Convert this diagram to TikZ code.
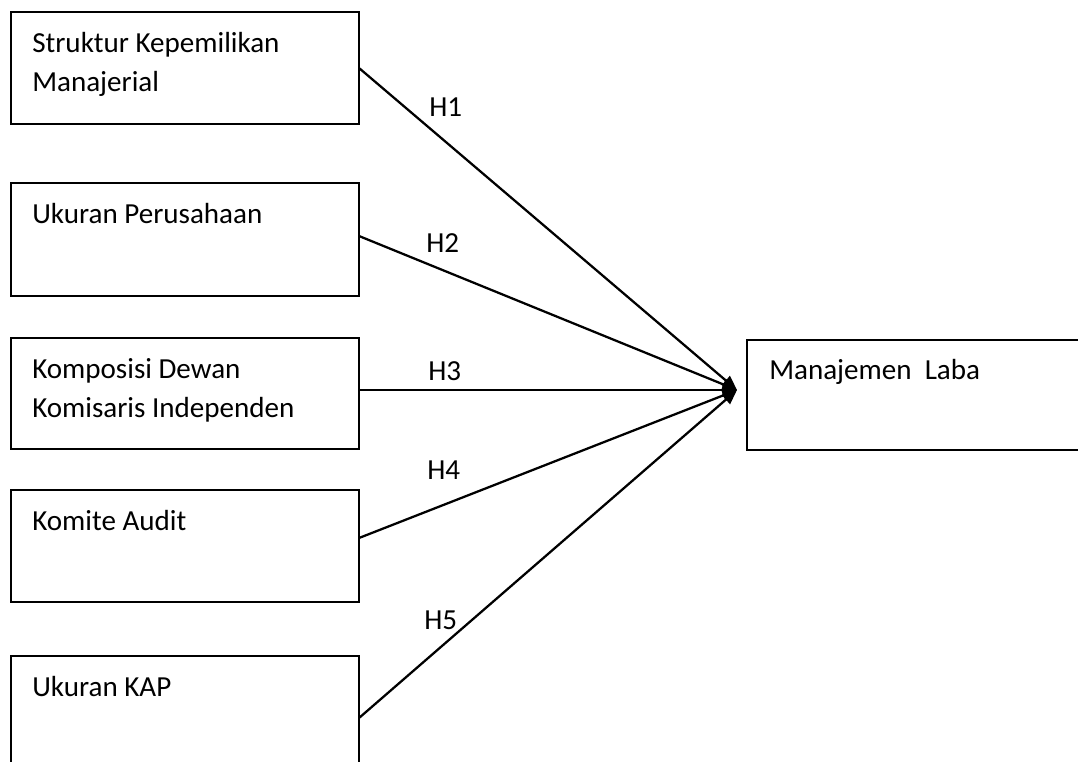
\documentclass[tikz,border=0pt]{standalone}
\usepackage{fontspec}
\setmainfont{Carlito}
\usetikzlibrary{arrows.meta,calc}
\begin{document}
\begin{tikzpicture}[x=0.75pt,y=-0.75pt,
  box/.style={draw, line width=1.7pt, inner sep=0pt, outer sep=0pt, anchor=north west, minimum width=261pt, minimum height=84pt},
  txt/.style={inner sep=0pt, anchor=base west, align=left, font=\fontsize{21.8pt}{29.25pt}\selectfont},
  conn/.style={line width=1.7pt, -{Triangle[length=11pt, width=9pt]}},
  hlab/.style={inner sep=0pt, anchor=base west, font=\fontsize{21.8pt}{29.25pt}\selectfont}]
\useasboundingbox (0,0) rectangle (1078,761);
\clip (0,0) rectangle (1078,761);
\fill[white] (0,0) rectangle (1078,761);
% boxes
\node[box] (b1) at (11,12) {};
\node[box, minimum height=84.75pt] (b2) at (11,183) {};
\node[box, minimum height=83.25pt] (b3) at (11,338) {};
\node[box] (b4) at (11,490) {};
\node[box] (b5) at (11,656) {};
\node[box, minimum width=270pt, minimum height=82.5pt] (m) at (747,340) {};
% texts (base = baseline of last line)
\node[txt] (t1) at ($(b1.north west)+(21,79)$) {Struktur Kepemilikan\\Manajerial};
\node[txt] (t2) at ($(b2.north west)+(21,40)$) {Ukuran Perusahaan};
\node[txt] (t3) at ($(b3.north west)+(21,79)$) {Komposisi Dewan\\Komisaris Independen};
\node[txt] (t4) at ($(b4.north west)+(21,40)$) {Komite Audit};
\node[txt] (t5) at ($(b5.north west)+(21,40)$) {Ukuran KAP};
\node[txt] (tm) at ($(m.north west)+(22,39)$) {Manajemen~~Laba};
% connectors
\coordinate (tip) at ($(m.west)+(-10,-5)$);
\draw[conn] (b1.east) -- (tip);
\draw[conn] ($(b2.east)+(0,-3.5)$) -- (tip);
\draw[conn] ($(b3.east)+(0,-3.5)$) -- (tip);
\draw[conn] ($(b4.east)+(0,-8)$) -- (tip);
\draw[conn] ($(b5.east)+(0,6)$) -- (tip);
% labels
\node[hlab] (h1) at (429,116) {H1};
\node[hlab] (h2) at (426,252) {H2};
\node[hlab] (h3) at (428,380) {H3};
\node[hlab] (h4) at (427,479) {H4};
\node[hlab] (h5) at (424,629) {H5};
\end{tikzpicture}
\end{document}
